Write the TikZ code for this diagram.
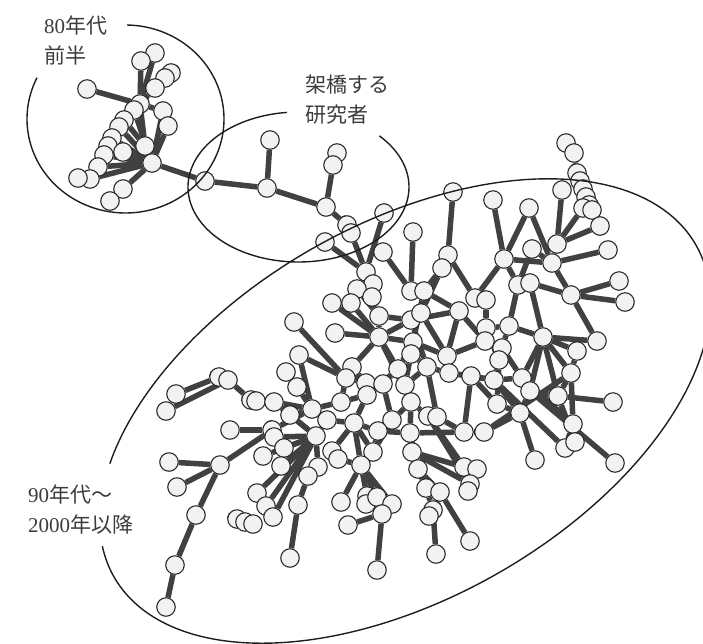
\documentclass[tikz,border=0pt]{standalone}
\usepackage{fontspec}
\setmainfont{Liberation Serif}
\newfontfamily\jfont{Noto Sans CJK JP}
\usetikzlibrary{backgrounds}
\definecolor{edge-gray}{HTML}{414141}
\definecolor{node-fill}{HTML}{F2F2F2}
\definecolor{node-line}{HTML}{2B2B2B}
\definecolor{ring-line}{HTML}{1E1E1E}
\definecolor{label-gray}{HTML}{3C3C3C}

\begin{document}
\begin{tikzpicture}[x=1pt, y=-1pt,
    vertex/.style={circle, draw=node-line, fill=node-fill, line width=1.1pt,
      minimum size=18.5pt, inner sep=0pt},
    tie/.style={edge-gray, line width=5.5pt},
    ring/.style={ring-line, line width=1.4pt},
    tag/.style={font=\fontsize{21}{30}\selectfont, text=label-gray,
      align=left, anchor=base west, inner sep=0pt}]
  \useasboundingbox (0,0) rectangle (703,643);

  % researchers
  \foreach \n/\px/\py in {
      a1/155/53, a2/141/61, a3/171/73, a3b/165/78, a4/155/88, a5/87/89,
      a6/140/104, a6b/134/110, a7/163/111, a8/168/126, a9/124/120,
      a9b/119/127, a10/112/138, a10b/108/146, a10c/104/155, a11/145/146,
      a12/123/152, a13/152/163, a14/98/167, a15/90/179, a15b/78/178,
      a16/123/189, a17/110/201,
      b1/205/181, b2/270/140, b3/267/188, b4/337/153, b4b/333/165,
      b5/326/207, b6/347/225, b6b/351/233, b7/325/242, b8/384/213,
      b9/383/252, b10/366/272,
      c1/566/143, c1b/574/153, c2a/577/173, c2b/580/181, c2c/583/189,
      c2d/586/197, c2e/589/205, c2f/583/208, c2g/592/210, c3/453/192,
      c4/493/200, c5/562/190, c6/529/208, c7/413/232, c8/600/226,
      c9/557/244, c10/532/249, c11/608/250, c12/448/255, c13/504/259,
      c14/552/263, c15/442/268, c16/619/281, c17/571/295, c18/625/302,
      c19/411/291, c20/424/291, c21/518/285, c22/530/283, c23/475/298,
      c23b/486/300, c24/459/311,
      d1/373/284, d2/357/289, d3/372/297, d4/332/303, d5/351/303,
      d6/379/316, d7/294/322, d8/335/333, d9/379/337, d10/299/355,
      e1/411/320, e2/421/313, e3/413/342, e4/411/354, e5/447/356,
      e6/449/373, e7/398/369, e8/427/367, e9/352/367, e10/346/378,
      e11/366/383, e12/383/384, e13/367/395, e14/405/385, e15/341/402,
      e17/411/402, e18/428/416, e19/437/417, e20/392/420, e21/327/420,
      e22/354/423, e23/378/431, e24/410/433,
      f1/486/328, f2/509/326, f3/543/337, f4/485/341, f5/502/348,
      f6/499/360, f7/577/351, f8/597/341, f9/471/376, f10/494/380,
      f11/522/378, f12/530/391, f13/571/373, f14/558/396, f15/613/402,
      f16/497/404, f17/520/413, f18/573/424, f19/565/448, f20/575/442,
      f21/535/460, f22/615/463, f23/464/432, f24/484/432,
      g1/219/377, g1b/228/380, g2/176/394, g3/166/411, g4/286/372,
      g5/297/387, g6/251/400, g6b/256/401, g7/274/402, g8/290/415,
      g9/312/409, g11/230/430, g12/272/430, g12b/274/437, g13/316/436,
      g14/284/448, g15/263/456, g16/281/466, g17/220/465, g18/169/462,
      g19/177/487, g20/332/451, g20b/338/459, g21/318/467, g21b/308/476,
      g22/257/493, g23/266/506, g24/298/505, g25/273/517, g26/196/515,
      g27/175/565, g28/166/607, g29/237/519, g29b/245/522, g29c/253/524,
      g30/290/558,
      h5/373/452, h6/361/465, h7/412/452, h9/418/469, h10/464/467,
      h10b/477/469, h11/470/484, h11b/468/491, h12/426/488, h13/440/492,
      h14/341/502, h15/367/496, h15b/366/504, h16/377/497, h17/392/504,
      h18/382/514, h19/433/510, h19b/429/516, h20/348/525, h21/470/541,
      h22/436/554, h23/377/570}
    \node[vertex] (\n) at (\px,\py) {};

  % co-authorship links
  \begin{scope}[on background layer]
    \foreach \s/\t in {
        a1/a6, a2/a6, a3/a3b, a3b/a4, a4/a6b, a5/a6, a6/a7, a7/a8, a8/a13,
        a6/a11, a6b/a13, a11/a13, a9/a11, a9b/a13, a10/a13, a10b/a13,
        a10c/a13, a12/a13, a14/a13, a15/a13, a15b/a15, a16/a13, a17/a16,
        a13/b1, a7/a13,
        b1/b3, b2/b3, b3/b5, b4/b4b, b4b/b5, b5/b6, b6/b6b, b6b/b10,
        b7/b10, b8/b10, b9/c19,
        c1/c1b, c1b/c2a, c2a/c2b, c2b/c2c, c2c/c2d, c2d/c2e, c2e/c2g,
        c2f/c9, c3/c12, c7/c19, c4/c13, c6/c13, c6/c14, c5/c9, c8/c9,
        c9/c14, c10/c14, c10/c21, c11/c14, c12/c15, c15/c20, c13/c14,
        c16/c17, c18/c17, c14/c17, c22/c17, c13/c21, c12/c23, c13/c23,
        c23/c23b, c19/c20, c20/c24, c15/e2, c22/f3,
        b10/d1, d1/d3, d2/d6, d3/d6, d4/d9, d5/d9, d6/d9, d8/d9, d7/e10,
        d10/e10, d6/e1,
        d9/e1, d9/e3, d9/e7, d9/e9, e1/e2, e2/c20, e1/c24, e3/e4, e3/e5,
        e4/e8, e5/e6, e5/f4, e6/f9, e8/e14, e7/e12, e7/e14, e9/e11,
        e10/e11, e11/e12, e12/e13, e13/e15, e13/e22, e14/e17, e17/e18,
        e18/e19, e17/e20, e20/e23, e23/e24, e21/e22, e19/f23, e8/e6,
        e24/f23, e18/h10, e18/h11, e22/e23, d9/e17, e1/e8, c20/e3,
        c24/e5, e7/e13, e12/e20, e9/e13, e10/e15, e4/e14, e19/e8,
        e17/e24, e2/e5, e3/e7,
        c23b/f1, f1/f2, f2/f3, f3/f8, c17/f8, f3/f7, f3/f11, f3/f13,
        f4/f5, f5/f6, f6/f10, f9/f10, f10/f11, f11/f12, f12/f14, f14/f15,
        f13/f14, f16/f17, f17/f21, f14/f20, f12/f22, f18/f19, f13/f18,
        f10/f19, f13/f24, f23/f24, f24/f17, c24/f4, c21/f2, f9/f16,
        f1/f4, f2/f5, f3/f12, f7/f13, f5/f11, f6/f16, f10/f17, f12/f17,
        f9/f23, f3/f14, f11/f18, e6/f10, f1/f6,
        g2/g1, g3/g1b, g1/g1b, g1b/g6, g6/g6b, g6b/g7, g7/g9, g4/g5,
        g5/g9, g8/g9, g9/e15, g17/g18, g17/g19, g17/g26, g26/g27, g27/g28,
        g17/g12, g11/g12, g12/g12b, g12b/g13, g14/g13, g15/g13, g16/g13,
        g13/g22, g13/g23, g13/g25, g21/g13, g21b/g21, g24/g21b, g30/g24,
        g29/g29b, g29b/g29c, g13/e21, g20/e22, g20/g20b, g20b/h6, g9/e21,
        d10/g9, g7/g13, g8/g13, g12/g9,
        e23/h5, h5/h6, e22/h6, h6/h14, h6/h15, h6/h16, h6/h17, h15/h15b,
        h16/h18, h18/h20, h18/h23, h7/h10, h7/h11, h7/h12, h10/h10b,
        h11/h11b, e24/h7, e24/h9, h9/h12, h9/h13, h13/h21, h12/h19,
        h19/h19b, h19/h22, e20/h5, e22/h5}
      \draw[tie] (\s) -- (\t);
  \end{scope}

  % groups
  \draw[ring] plot[domain=154:449, samples=150]
    ({125.5+98.5*cos(\x)}, {119-94*sin(\x)});
  \draw[ring] plot[domain=96:403, samples=150]
    ({298.5+110.5*cos(\x)}, {187-75*sin(\x)});
  \draw[ring] plot[domain=170:507.5, samples=250]
    ({405+335*cos(\x)*cos(29.7)-187*sin(\x)*sin(29.7)},
     {411-335*cos(\x)*sin(29.7)-187*sin(\x)*cos(29.7)});

  \node[tag] (early) at (44,63) {80{\jfont 年代}\\{\jfont 前半}};
  \node[tag] (bridge) at (305,122) {{\jfont 架橋する}\\{\jfont 研究者}};
  \node[tag] (late) at (28,532) {90{\jfont 年代～}\\2000{\jfont 年以降}};
\end{tikzpicture}
\end{document}
